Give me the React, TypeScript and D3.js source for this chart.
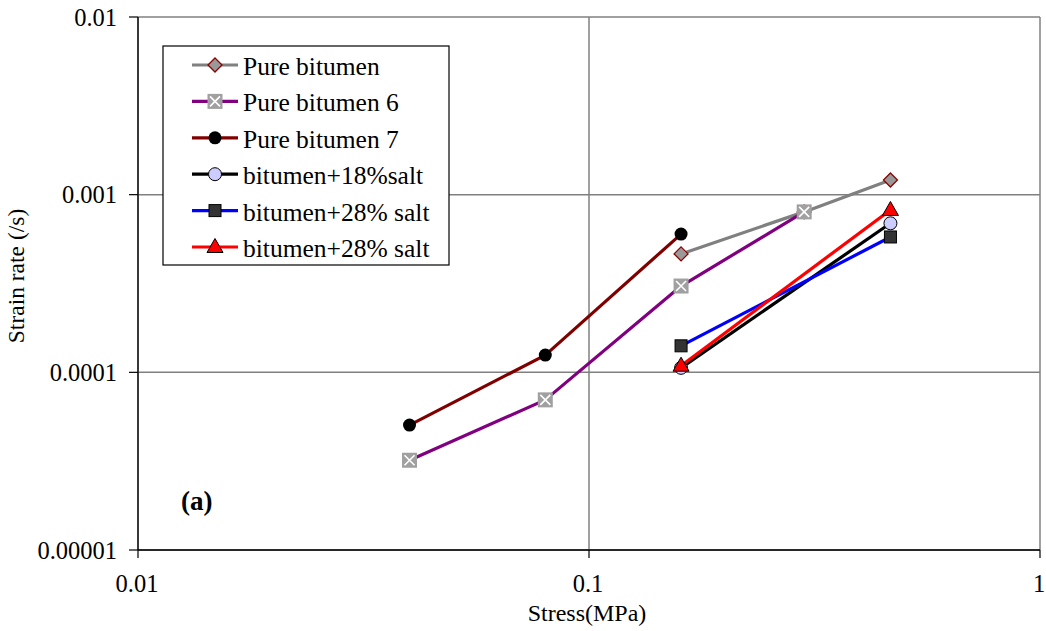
import React from "react";
import * as d3 from "d3";

// Stress (MPa) and strain rate (/s) for each test series
const pureStress = [0.16, 0.3, 0.466];
const pureRate = [4.64e-4, 8.0e-4, 1.21e-3];

const pure6Stress = [0.04, 0.08, 0.16, 0.3];
const pure6Rate = [3.2e-5, 7.0e-5, 3.06e-4, 8.0e-4];

const pure7Stress = [0.04, 0.08, 0.16];
const pure7Rate = [5.05e-5, 1.25e-4, 6.0e-4];

const salt18Stress = [0.16, 0.466];
const salt18Rate = [1.06e-4, 6.9e-4];

const salt28aStress = [0.16, 0.466];
const salt28aRate = [1.41e-4, 5.78e-4];

const salt28bStress = [0.16, 0.466];
const salt28bRate = [1.09e-4, 8.2e-4];

const xTicks = [0.01, 0.1, 1];
const yTicks = [0.00001, 0.0001, 0.001, 0.01];
const xTickLabels = ["0.01", "0.1", "1"];
const yTickLabels = ["0.00001", "0.0001", "0.001", "0.01"];

const seriesNames = [
  "Pure bitumen",
  "Pure bitumen 6",
  "Pure bitumen 7",
  "bitumen+18%salt",
  "bitumen+28% salt",
  "bitumen+28% salt",
];

type MarkerKind = "diamond" | "xsquare" | "dot" | "ring" | "square" | "triangle";

const series = [
  { name: seriesNames[0], xs: pureStress, ys: pureRate, color: "#808080", marker: "diamond" as MarkerKind },
  { name: seriesNames[1], xs: pure6Stress, ys: pure6Rate, color: "#800080", marker: "xsquare" as MarkerKind },
  { name: seriesNames[2], xs: pure7Stress, ys: pure7Rate, color: "#800000", marker: "dot" as MarkerKind },
  { name: seriesNames[3], xs: salt18Stress, ys: salt18Rate, color: "#000000", marker: "ring" as MarkerKind },
  { name: seriesNames[4], xs: salt28aStress, ys: salt28aRate, color: "#0000ff", marker: "square" as MarkerKind },
  { name: seriesNames[5], xs: salt28bStress, ys: salt28bRate, color: "#ff0000", marker: "triangle" as MarkerKind },
];

const FONT = "Liberation Serif, DejaVu Serif, serif";
const textStyle = { fontFamily: FONT };

function Marker({ kind, cx, cy }: { kind: MarkerKind; cx: number; cy: number }) {
  switch (kind) {
    case "diamond": {
      const r = 7;
      return (
        <path
          d={`M${cx},${cy - r}L${cx + r},${cy}L${cx},${cy + r}L${cx - r},${cy}Z`}
          fill="#999999"
          stroke="#8b0000"
          strokeWidth={1.3}
        />
      );
    }
    case "xsquare": {
      const h = 7.5;
      const k = 5;
      return (
        <g>
          <rect x={cx - h} y={cy - h} width={2 * h} height={2 * h} fill="#a0a0a0" />
          <path
            d={`M${cx - k},${cy - k}L${cx + k},${cy + k}M${cx - k},${cy + k}L${cx + k},${cy - k}`}
            stroke="#ffffff"
            strokeWidth={1.6}
          />
        </g>
      );
    }
    case "dot":
      return <circle cx={cx} cy={cy} r={6.5} fill="#000000" />;
    case "ring":
      return <circle cx={cx} cy={cy} r={6.5} fill="#ccccff" stroke="#000000" strokeWidth={1} />;
    case "square": {
      const h = 6;
      return (
        <rect x={cx - h} y={cy - h} width={2 * h} height={2 * h} fill="#333333" stroke="#000000" strokeWidth={1} />
      );
    }
    case "triangle": {
      return (
        <path
          d={`M${cx},${cy - 8.5}L${cx + 8},${cy + 5.5}L${cx - 8},${cy + 5.5}Z`}
          fill="#ff0000"
          stroke="#000000"
          strokeWidth={1}
        />
      );
    }
  }
  return null;
}

export default function App() {
  const width = 1046;
  const height = 631;
  const left = 138;
  const right = 1040;
  const top = 17;
  const bottom = 550;

  const x = d3.scaleLog().domain([0.01, 1]).range([left, right]);
  const y = d3.scaleLog().domain([0.00001, 0.01]).range([bottom, top]);

  const line = d3
    .line<[number, number]>()
    .x((d) => x(d[0]))
    .y((d) => y(d[1]));

  const legend = { x0: 163, y0: 46, x1: 449, y1: 265, rowStart: 65, rowStep: 36.4 };

  return (
    <svg
      width={width}
      height={height}
      style={{ position: "absolute", left: 0, top: 0, background: "#ffffff", fontFamily: FONT }}
    >
      <rect x={0} y={0} width={width} height={height} fill="#ffffff" />

      {/* gridlines */}
      {yTicks.map((t) => (
        <line key={`gy${t}`} x1={left} x2={right} y1={y(t)} y2={y(t)} stroke="#808080" strokeWidth={1.5} />
      ))}
      {xTicks.map((t) => (
        <line key={`gx${t}`} x1={x(t)} x2={x(t)} y1={top} y2={bottom} stroke="#808080" strokeWidth={1.5} />
      ))}

      {/* axes */}
      <line x1={left} x2={left} y1={top} y2={bottom} stroke="#000000" strokeWidth={1.3} />
      <line x1={left} x2={right} y1={bottom} y2={bottom} stroke="#000000" strokeWidth={1.3} />
      {yTicks.map((t, i) => (
        <g key={`ty${t}`}>
          <line x1={left - 9} x2={left} y1={y(t)} y2={y(t)} stroke="#000000" strokeWidth={1.2} />
          <text x={117} y={y(t) + 8.5} fontSize={24.5} textAnchor="end" fill="#000000" style={textStyle}>
            {yTickLabels[i]}
          </text>
        </g>
      ))}
      {xTicks.map((t, i) => (
        <g key={`tx${t}`}>
          <line x1={x(t)} x2={x(t)} y1={bottom} y2={bottom + 8} stroke="#000000" strokeWidth={1.2} />
          <text x={x(t) - 1} y={592} fontSize={24.5} textAnchor="middle" fill="#000000" style={textStyle}>
            {xTickLabels[i]}
          </text>
        </g>
      ))}

      {/* axis titles */}
      <text x={587} y={621} fontSize={24} textAnchor="middle" fill="#000000" style={textStyle}>
        Stress(MPa)
      </text>
      <text
        transform={`translate(24,276) rotate(-90)`}
        fontSize={23.5}
        textAnchor="middle"
        fill="#000000"
        style={textStyle}
      >
        Strain rate (/s)
      </text>

      {/* series lines */}
      {series.map((s, i) => (
        <path
          key={`l${i}`}
          d={line(s.xs.map((v, j) => [v, s.ys[j]] as [number, number])) || ""}
          fill="none"
          stroke={s.color}
          strokeWidth={3.2}
          strokeLinejoin="round"
        />
      ))}
      {/* series markers */}
      {series.map((s, i) => (
        <g key={`m${i}`}>
          {s.xs.map((v, j) => (
            <Marker key={j} kind={s.marker} cx={x(v)} cy={y(s.ys[j])} />
          ))}
        </g>
      ))}

      {/* panel label */}
      <text x={181} y={510} fontSize={27} fontWeight="bold" fill="#000000" style={textStyle}>
        (a)
      </text>

      {/* legend */}
      <rect
        x={legend.x0}
        y={legend.y0}
        width={legend.x1 - legend.x0}
        height={legend.y1 - legend.y0}
        fill="#ffffff"
        stroke="#000000"
        strokeWidth={1.2}
      />
      {series.map((s, i) => {
        const ry = legend.rowStart + i * legend.rowStep;
        return (
          <g key={`lg${i}`}>
            <line x1={192} x2={238} y1={ry} y2={ry} stroke={s.color} strokeWidth={3.2} />
            <Marker kind={s.marker} cx={215} cy={ry} />
            <text x={243} y={ry + 10} fontSize={25.5} fill="#000000" style={textStyle}>
              {s.name}
            </text>
          </g>
        );
      })}
    </svg>
  );
}
